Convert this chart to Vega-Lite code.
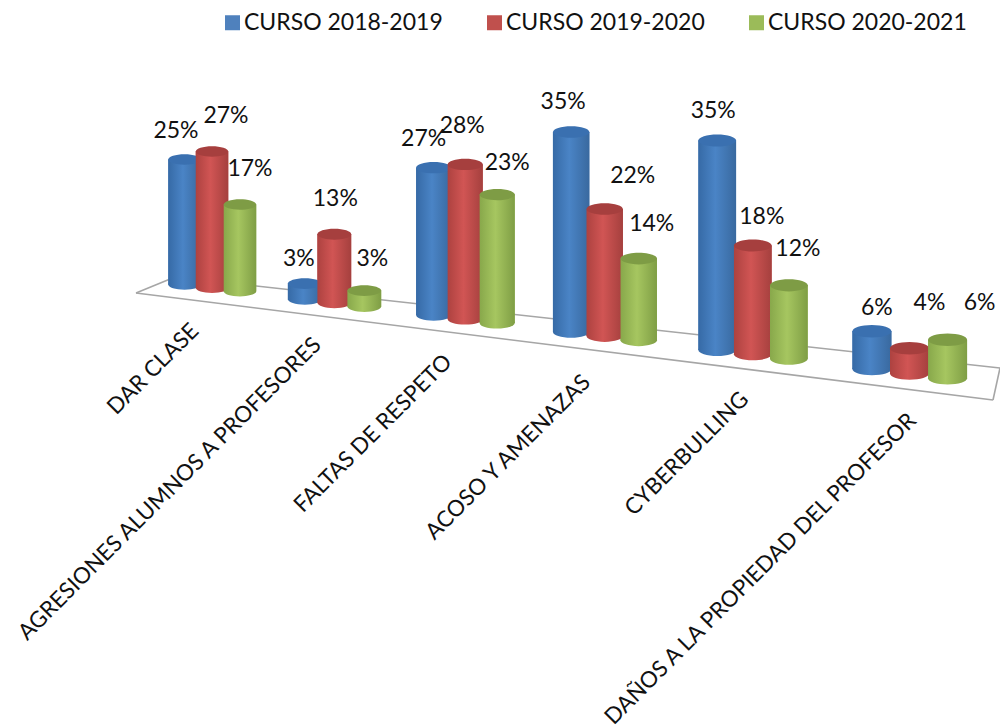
{
"$schema":"https://vega.github.io/schema/vega-lite/v6.json",
"width":1000,"height":728,"padding":0,
"autosize":"none",
"background":"white",
"view":{"stroke":null},
"config":{"view":{"stroke":null},"text":{"font":"Lato"}},
"data":{"values":[
{"categoria":"DAR CLASE","curso":"CURSO 2018-2019","valor":25},
{"categoria":"DAR CLASE","curso":"CURSO 2019-2020","valor":27},
{"categoria":"DAR CLASE","curso":"CURSO 2020-2021","valor":17},
{"categoria":"AGRESIONES ALUMNOS A PROFESORES","curso":"CURSO 2018-2019","valor":3},
{"categoria":"AGRESIONES ALUMNOS A PROFESORES","curso":"CURSO 2019-2020","valor":13},
{"categoria":"AGRESIONES ALUMNOS A PROFESORES","curso":"CURSO 2020-2021","valor":3},
{"categoria":"FALTAS DE RESPETO","curso":"CURSO 2018-2019","valor":27},
{"categoria":"FALTAS DE RESPETO","curso":"CURSO 2019-2020","valor":28},
{"categoria":"FALTAS DE RESPETO","curso":"CURSO 2020-2021","valor":23},
{"categoria":"ACOSO Y AMENAZAS","curso":"CURSO 2018-2019","valor":35},
{"categoria":"ACOSO Y AMENAZAS","curso":"CURSO 2019-2020","valor":22},
{"categoria":"ACOSO Y AMENAZAS","curso":"CURSO 2020-2021","valor":14},
{"categoria":"CYBERBULLING","curso":"CURSO 2018-2019","valor":35},
{"categoria":"CYBERBULLING","curso":"CURSO 2019-2020","valor":18},
{"categoria":"CYBERBULLING","curso":"CURSO 2020-2021","valor":12},
{"categoria":"DAÑOS A LA PROPIEDAD DEL PROFESOR","curso":"CURSO 2018-2019","valor":6},
{"categoria":"DAÑOS A LA PROPIEDAD DEL PROFESOR","curso":"CURSO 2019-2020","valor":4},
{"categoria":"DAÑOS A LA PROPIEDAD DEL PROFESOR","curso":"CURSO 2020-2021","valor":6}
]},
"transform":[
{"calculate":"indexof(['DAR CLASE','AGRESIONES ALUMNOS A PROFESORES','FALTAS DE RESPETO','ACOSO Y AMENAZAS','CYBERBULLING','DAÑOS A LA PROPIEDAD DEL PROFESOR'],datum.categoria)","as":"c"},
{"calculate":"indexof(['CURSO 2018-2019','CURSO 2019-2020','CURSO 2020-2021'],datum.curso)","as":"j"},
{"calculate":"datum.c*3+datum.j","as":"r"},
{"calculate":"datum.c+(datum.j-1)*0.235","as":"s"},
{"calculate":"212+118*datum.s+4.3*datum.s*datum.s","as":"px"},
{"calculate":"32.5+1.3*datum.c","as":"w"},
{"calculate":"datum.px-datum.w/2","as":"x0"},
{"calculate":"datum.px+datum.w/2","as":"x1"},
{"calculate":"datum.w*datum.w","as":"sz"},
{"calculate":"284.5+0.123*(datum.px-185)","as":"yb"},
{"calculate":"datum.yb-datum.valor*(5+0.00185*(datum.px-185))","as":"yt"},
{"calculate":"datum.px+[-8.5,14,10,-6,1,8,-10,-3,10,-8,28,13,-4,9,9,5,20,32][datum.r]","as":"lx"},
{"calculate":"datum.yb-datum.valor*(5+0.0016*(datum.px-185))+[-28,-36,-36,-25,-36,-32,-30,-40,-33,-33,-35,-36,-34,-31,-38,-24,-46,-38][datum.r]","as":"ly"},
{"calculate":"datum.px-14+[-3,-3,-3,-4,6,17][datum.c]","as":"cx"},
{"calculate":"290+0.123*(datum.px-185)+34+[0,-1,0,3,2,4][datum.c]","as":"cy"},
{"calculate":"datum.valor+'%'","as":"etq"}
],
"encoding":{
"x":{"field":"x0","type":"quantitative","axis":null,"scale":{"domain":[0,1000],"nice":false,"zero":false}},
"y":{"field":"yb","type":"quantitative","axis":null,"scale":{"domain":[0,728],"reverse":true,"nice":false,"zero":false}}
},
"layer":[
{"mark":{"type":"rule","color":"#a6a6a6","strokeWidth":1.6},"transform":[{"filter":"datum.r==0"}],"encoding":{"x":{"datum":136,"type":"quantitative"},"x2":{"datum":175},"y":{"datum":293,"type":"quantitative"},"y2":{"datum":277}}},
{"mark":{"type":"rule","color":"#a6a6a6","strokeWidth":1.6},"transform":[{"filter":"datum.r==0"}],"encoding":{"x":{"datum":175,"type":"quantitative"},"x2":{"datum":1000},"y":{"datum":277,"type":"quantitative"},"y2":{"datum":368}}},
{"mark":{"type":"rule","color":"#a6a6a6","strokeWidth":1.6},"transform":[{"filter":"datum.r==0"}],"encoding":{"x":{"datum":1000,"type":"quantitative"},"x2":{"datum":993},"y":{"datum":368,"type":"quantitative"},"y2":{"datum":400}}},
{"mark":{"type":"rule","color":"#a6a6a6","strokeWidth":1.6},"transform":[{"filter":"datum.r==0"}],"encoding":{"x":{"datum":993,"type":"quantitative"},"x2":{"datum":136},"y":{"datum":400,"type":"quantitative"},"y2":{"datum":293}}},
{"mark":{"type":"rect"},"encoding":{"x2":{"field":"x1"},"y":{"field":"yt","type":"quantitative"},"y2":{"field":"yb"},
"color":{"field":"curso","type":"nominal","scale":{"domain":["CURSO 2018-2019","CURSO 2019-2020","CURSO 2020-2021"],"range":["#4F81BD","#C0504D","#9BBB59"]},
"legend":{"orient":"none","legendX":221,"legendY":11,"direction":"horizontal","columns":3,"title":null,"symbolType":"square","symbolSize":225,"symbolStrokeWidth":0,"labelFontSize":23,"labelFont":"Lato","labelColor":"#111111","labelOffset":0,"labelLimit":400,"columnPadding":40}}}},

{"transform":[{"filter":"datum.j==0"}],"mark":{"type":"point","filled":true,"opacity":1,"strokeWidth":0,"shape":"M-1,0A1,0.32,0,1,1,1,0A1,0.32,0,1,1,-1,0Z","color":{"x1":0,"y1":0,"x2":1,"y2":0,"gradient":"linear","stops":[{"offset":0,"color":"#366aa6"},{"offset":0.45,"color":"#4a84c6"},{"offset":1,"color":"#39699f"}]}},"encoding":{"x":{"field":"px","type":"quantitative"},"size":{"field":"sz","type":"quantitative","scale":null}}},
{"transform":[{"filter":"datum.j==0"}],"mark":{"type":"rect","color":{"x1":0,"y1":0,"x2":1,"y2":0,"gradient":"linear","stops":[{"offset":0,"color":"#366aa6"},{"offset":0.45,"color":"#4a84c6"},{"offset":1,"color":"#39699f"}]}},"encoding":{"x2":{"field":"x1"},"y":{"field":"yt","type":"quantitative"},"y2":{"field":"yb"}}},
{"transform":[{"filter":"datum.j==0"}],"mark":{"type":"point","filled":true,"opacity":1,"strokeWidth":0,"shape":"M-1,0A1,0.32,0,1,1,1,0A1,0.32,0,1,1,-1,0Z","color":"#3a70b0"},"encoding":{"x":{"field":"px","type":"quantitative"},"y":{"field":"yt","type":"quantitative"},"size":{"field":"sz","type":"quantitative","scale":null}}},

{"transform":[{"filter":"datum.j==1"}],"mark":{"type":"point","filled":true,"opacity":1,"strokeWidth":0,"shape":"M-1,0A1,0.32,0,1,1,1,0A1,0.32,0,1,1,-1,0Z","color":{"x1":0,"y1":0,"x2":1,"y2":0,"gradient":"linear","stops":[{"offset":0,"color":"#ad4240"},{"offset":0.45,"color":"#d15554"},{"offset":1,"color":"#a5403e"}]}},"encoding":{"x":{"field":"px","type":"quantitative"},"size":{"field":"sz","type":"quantitative","scale":null}}},
{"transform":[{"filter":"datum.j==1"}],"mark":{"type":"rect","color":{"x1":0,"y1":0,"x2":1,"y2":0,"gradient":"linear","stops":[{"offset":0,"color":"#ad4240"},{"offset":0.45,"color":"#d15554"},{"offset":1,"color":"#a5403e"}]}},"encoding":{"x2":{"field":"x1"},"y":{"field":"yt","type":"quantitative"},"y2":{"field":"yb"}}},
{"transform":[{"filter":"datum.j==1"}],"mark":{"type":"point","filled":true,"opacity":1,"strokeWidth":0,"shape":"M-1,0A1,0.32,0,1,1,1,0A1,0.32,0,1,1,-1,0Z","color":"#a63f3e"},"encoding":{"x":{"field":"px","type":"quantitative"},"y":{"field":"yt","type":"quantitative"},"size":{"field":"sz","type":"quantitative","scale":null}}},

{"transform":[{"filter":"datum.j==2"}],"mark":{"type":"point","filled":true,"opacity":1,"strokeWidth":0,"shape":"M-1,0A1,0.32,0,1,1,1,0A1,0.32,0,1,1,-1,0Z","color":{"x1":0,"y1":0,"x2":1,"y2":0,"gradient":"linear","stops":[{"offset":0,"color":"#88a84b"},{"offset":0.45,"color":"#a6c660"},{"offset":1,"color":"#7f9e45"}]}},"encoding":{"x":{"field":"px","type":"quantitative"},"size":{"field":"sz","type":"quantitative","scale":null}}},
{"transform":[{"filter":"datum.j==2"}],"mark":{"type":"rect","color":{"x1":0,"y1":0,"x2":1,"y2":0,"gradient":"linear","stops":[{"offset":0,"color":"#88a84b"},{"offset":0.45,"color":"#a6c660"},{"offset":1,"color":"#7f9e45"}]}},"encoding":{"x2":{"field":"x1"},"y":{"field":"yt","type":"quantitative"},"y2":{"field":"yb"}}},
{"transform":[{"filter":"datum.j==2"}],"mark":{"type":"point","filled":true,"opacity":1,"strokeWidth":0,"shape":"M-1,0A1,0.32,0,1,1,1,0A1,0.32,0,1,1,-1,0Z","color":"#7e9c45"},"encoding":{"x":{"field":"px","type":"quantitative"},"y":{"field":"yt","type":"quantitative"},"size":{"field":"sz","type":"quantitative","scale":null}}},

{"mark":{"type":"text","font":"Lato","fontSize":23,"color":"#111111","align":"center","baseline":"middle"},"encoding":{"x":{"field":"lx","type":"quantitative"},"y":{"field":"ly","type":"quantitative"},"text":{"field":"etq","type":"nominal"}}},
{"transform":[{"filter":"datum.j==1"}],"mark":{"type":"text","font":"Lato","fontSize":22.4,"color":"#111111","align":"right","baseline":"middle","angle":315},"encoding":{"x":{"field":"cx","type":"quantitative"},"y":{"field":"cy","type":"quantitative"},"text":{"field":"categoria","type":"nominal"}}}
]
}
